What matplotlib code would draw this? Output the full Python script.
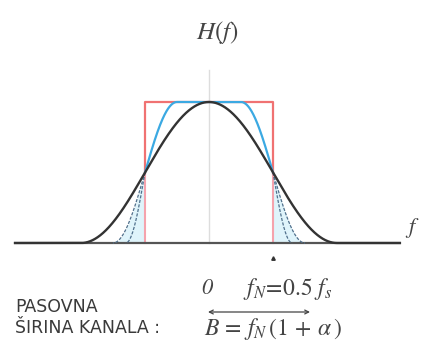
import numpy as np
import matplotlib
matplotlib.use('Agg')
import matplotlib.pyplot as plt

plt.rcParams['mathtext.fontset'] = 'stix'

# roll-off factors of the raised-cosine spectra (frequency in units of f_N)
alpha_rect = 0.0
alpha_mid = 0.5
alpha_full = 1.0
alpha_inner = 0.3   # second tail drawn dashed below the half level

f_min, f_max = -3.03, 2.98
f_marker = 1.0


def raised_cosine(f, a):
    f = np.abs(f)
    h = np.zeros_like(f)
    if a == 0:
        h[f <= 1.0] = 1.0
        return h
    lo, hi = 1 - a, 1 + a
    h[f <= lo] = 1.0
    band = (f > lo) & (f < hi)
    h[band] = 0.5 * (1 + np.cos(np.pi / (2 * a) * (f[band] - lo)))
    return h


fig = plt.figure(figsize=(4.21, 3.45), dpi=100)
ax = fig.add_axes([0, 0, 1, 1])
# 64 px per f_N horizontally, 141 px per unit of H vertically
ax.set_xlim(-209 / 64, 212 / 64)
ax.set_ylim(-102 / 141, 243 / 141)
ax.axis('off')


def px(x, y):
    return (x - 209) / 64, (243 - y) / 141


f = np.linspace(f_min, f_max, 2000)

# vertical axis
ax.plot([0, 0], [0, px(0, 70)[1]], color='#dddddd', lw=1.0, zorder=1)

# shaded tails outside the ideal band
for side in (-1, 1):
    ft = np.linspace(1.0, 1 + alpha_mid, 200) * side
    ax.fill_between(ft, raised_cosine(ft, alpha_mid), 0, color='#dff4fb', lw=0, zorder=1)

# ideal (alpha = 0) low-pass
ax.plot([-1, -1], [0, 0.5], color='#f5a3ad', lw=1.5, zorder=2)
ax.plot([1, 1], [0, 0.5], color='#f5a3ad', lw=1.5, zorder=2)
ax.plot([-1, -1, 1, 1], [0.5, 1, 1, 0.5], color='#f07272', lw=1.6, zorder=2)

# alpha = 0.5: solid above the half level, dashed tails below
fm = np.linspace(-1, 1, 600)
ax.plot(fm, raised_cosine(fm, alpha_mid), color='#3ba9e2', lw=1.6, zorder=3)
for a in (alpha_mid, alpha_inner):
    for side in (-1, 1):
        ft = np.linspace(1.0, 1 + a, 200) * side
        ax.plot(ft, raised_cosine(ft, a), color='#50708c', lw=0.9,
                ls=(0, (2.5, 1.2)), zorder=3)

# baseline
ax.plot([f_min, f_max], [0, 0], color='#555555', lw=1.6, zorder=2)

# widest roll-off
ax.plot(f, raised_cosine(f, alpha_full), color='#333333', lw=1.7, zorder=4)

ax.plot([f_marker], [px(0, 258)[1]], marker='^', ms=2.5, color='#333333', zorder=5)

txt = '#3a3a3a'
mcol = '#444444'
ax.text(*px(217, 32), r'$H(f)$', fontsize=18, color=mcol, ha='center', va='center')
ax.text(*px(412, 228), r'$f$', fontsize=16, color=mcol, ha='center', va='center')
ax.text(*px(207, 289), '0', fontsize=16, color=mcol, family='STIXGeneral',
        style='italic', ha='center', va='center')
ax.text(*px(243, 289), r'$f_N\! =\! 0.5\ f_s$', fontsize=17, color=mcol,
        ha='left', va='center')
ax.annotate('', xy=px(310, 312), xytext=px(208, 312),
            arrowprops=dict(arrowstyle='<->', color='#444444', lw=0.9,
                            shrinkA=0, shrinkB=0, mutation_scale=7))
ax.text(*px(204, 329), r'$B\,=\,f_N\,(1\,+\,\alpha\,)$', fontsize=17, color=mcol,
        ha='left', va='center')

ax.text(*px(15, 307), 'PASOVNA', fontsize=12.5, color=txt, ha='left', va='center')
ax.text(*px(15, 328), 'ŠIRINA KANALA :', fontsize=12.5, color=txt, ha='left', va='center')

fig.savefig('out.png', dpi=100, facecolor='white')
